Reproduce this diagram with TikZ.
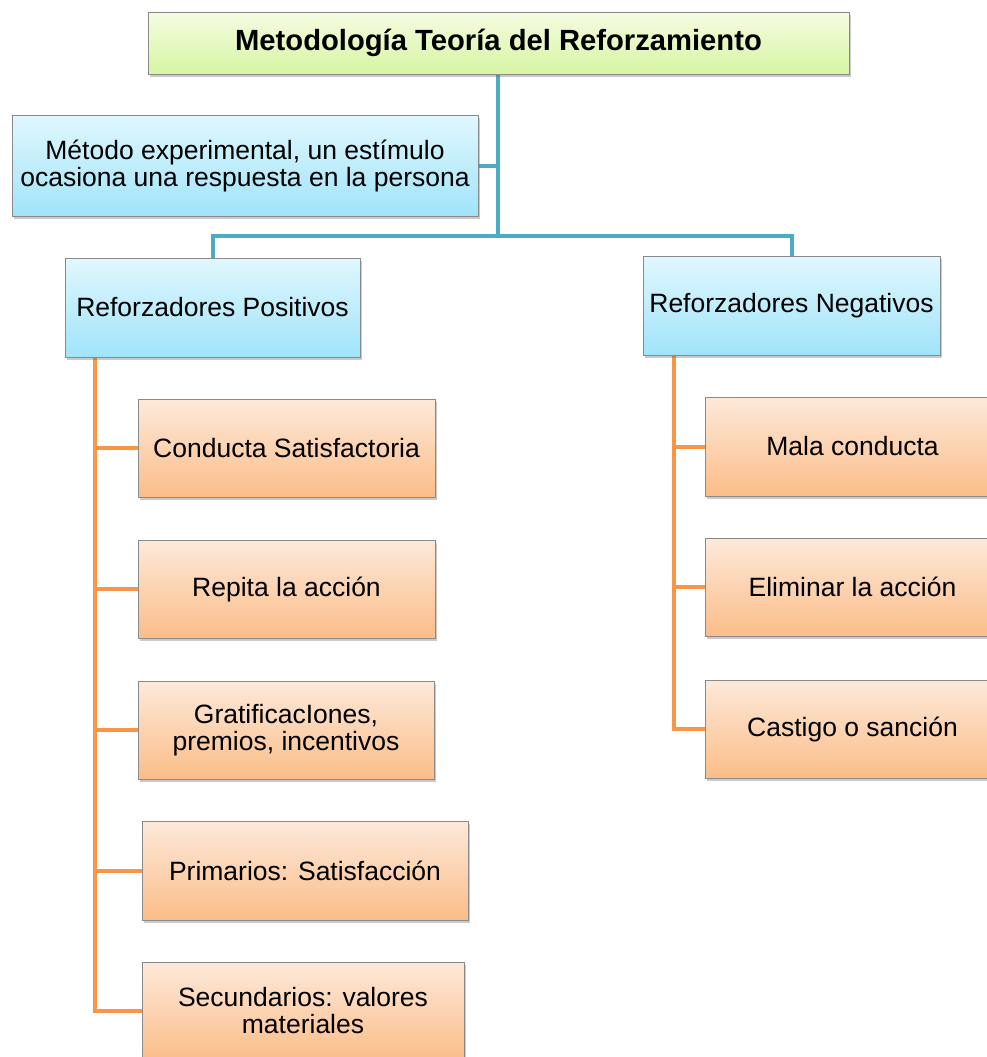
\documentclass[tikz,border=0pt]{standalone}
\usepackage{fontspec}
\setmainfont{Liberation Sans}
\usetikzlibrary{shadows}
\pgfdeclarelayer{background}
\pgfsetlayers{background,main}

\definecolor{linkblue}{HTML}{4BACC6}
\definecolor{linkorange}{HTML}{F79646}
\definecolor{edgegray}{HTML}{8A8A8A}
\definecolor{bluetop}{HTML}{E0F7FE}
\definecolor{bluebot}{HTML}{A0E4FA}
\definecolor{orangetop}{HTML}{FDE9DA}
\definecolor{orangebot}{HTML}{FBBD88}
\definecolor{greentop}{HTML}{F5FCE2}
\definecolor{greenbot}{HTML}{D6F5A2}

\tikzset{
  x=1pt, y=-1pt,
  boxbase/.style={rectangle, draw=edgegray, line width=0.8pt, align=center,
    inner sep=2pt, font=\fontsize{26.5}{27}\selectfont,
    drop shadow={shadow xshift=2pt, shadow yshift=-3pt, opacity=0.35, fill=black!60}},
  titlebox/.style={boxbase, top color=greentop, bottom color=greenbot,
    font=\fontsize{29.2}{30}\selectfont\bfseries},
  bluebox/.style={boxbase, top color=bluetop, bottom color=bluebot},
  orangebox/.style={boxbase, top color=orangetop, bottom color=orangebot},
  blueline/.style={draw=linkblue, line width=4pt},
  orangeline/.style={draw=linkorange, line width=4pt},
}

\begin{document}
\begin{tikzpicture}
\useasboundingbox (0,0) rectangle (987,1057);

% heading
\node[titlebox, minimum width=701pt, minimum height=62pt] (title) at (498.5,43)
  {Metodología Teoría del Reforzamiento};

% method and the two kinds of reinforcers
\node[bluebox, minimum width=466pt, minimum height=101pt] (metodo) at (245,165.5)
  {Método experimental, un estímulo\\ocasiona una respuesta en la persona};
\node[bluebox, minimum width=295pt, minimum height=99pt] (pos) at (212.5,307.5)
  {Reforzadores Positivos};
\node[bluebox, minimum width=297pt, minimum height=99pt] (neg) at (791.5,305.5)
  {Reforzadores Negativos};

% positive reinforcers
\node[orangebox, minimum width=297pt, minimum height=98pt] (p1) at (286.5,448)
  {Conducta Satisfactoria};
\node[orangebox, minimum width=297pt, minimum height=98pt] (p2) at (286.5,589)
  {Repita la acción};
\node[orangebox, minimum width=296pt, minimum height=98pt] (p3) at (286,730)
  {GratificacIones,\\premios, incentivos};
\node[orangebox, minimum width=326pt, minimum height=99pt] (p4) at (305,870.5)
  {Primarios: Satisfacción};
\node[orangebox, minimum width=322pt, minimum height=98pt] (p5) at (303,1011)
  {Secundarios: valores\\materiales};

% negative reinforcers
\node[orangebox, minimum width=295pt, minimum height=99pt] (n1) at (852.5,446.5)
  {Mala conducta};
\node[orangebox, minimum width=295pt, minimum height=98pt] (n2) at (852.5,587)
  {Eliminar la acción};
\node[orangebox, minimum width=295pt, minimum height=98pt] (n3) at (852.5,729)
  {Castigo o sanción};

\coordinate (hub) at (498,236);
\coordinate (lspine) at (95,0);
\coordinate (rspine) at (674,0);

\begin{pgfonlayer}{background}
  % upper tree
  \draw[blueline] (title.south -| hub) -- (hub);
  \draw[blueline] (metodo.east) -- (metodo.east -| hub);
  \draw[blueline] (pos.north) |- (hub) -| (neg.north);
  % left branch
  \draw[orangeline] (pos.south -| lspine) |- (p5.west);
  \foreach \n in {p1,p2,p3,p4}
    \draw[orangeline] (\n.west -| lspine) -- (\n.west);
  % right branch
  \draw[orangeline] (neg.south -| rspine) |- (n3.west);
  \foreach \n in {n1,n2}
    \draw[orangeline] (\n.west -| rspine) -- (\n.west);
\end{pgfonlayer}
\end{tikzpicture}
\end{document}
